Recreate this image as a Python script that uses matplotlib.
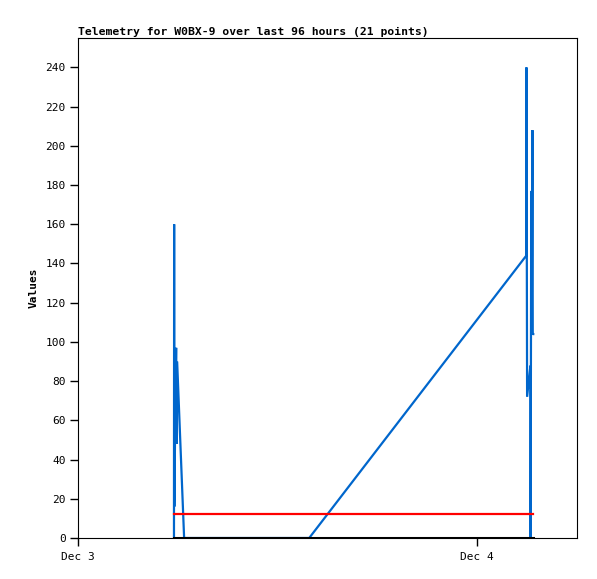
import matplotlib
matplotlib.use("Agg")
import matplotlib.pyplot as plt
from datetime import datetime, timedelta

# hours after Dec 3 00:00
hours = [5.77, 5.78, 5.79, 5.87, 5.90, 5.93, 5.96, 6.10, 6.24, 6.38, 13.90,
         26.95, 26.96, 27.00, 27.20, 27.21, 27.25, 27.28, 27.32, 27.34, 27.37]
blue_vals = [0, 160, 16, 80, 97, 48, 90, 60, 30, 0, 0,
             144, 240, 72, 88, 0, 177, 104, 208, 104, 104]
red_vals = [12] * 21
black_vals = [0] * 21
tick_labels = ["Dec 3", "Dec 4"]
title = "Telemetry for W0BX-9 over last 96 hours (21 points)"

base = datetime(2024, 12, 3)
times = [base + timedelta(hours=h) for h in hours]

fig = plt.figure(figsize=(5.97, 5.79), dpi=100)
ax = fig.add_axes([78/597, 1-538/579, (577-78)/597, (538-38)/579])
ax.plot(times, blue_vals, color="#0066cc", lw=1.6, zorder=2, solid_joinstyle="bevel")
ax.plot(times, red_vals, color="#ff0000", lw=1.6, zorder=3)
ax.plot(times, black_vals, color="#000000", lw=2.2, zorder=4)

ax.set_xlim(base, base + timedelta(hours=30))
ax.set_ylim(0, 255)
ax.set_yticks(range(0, 241, 20))
ax.set_xticks([base, base + timedelta(hours=24)])
ax.set_xticklabels(tick_labels)
ax.tick_params(direction="out", length=6, width=1, labelsize=8, pad=3)
for lab in ax.get_xticklabels() + ax.get_yticklabels():
    lab.set_family("DejaVu Sans Mono")
ax.tick_params(axis="x", pad=4)
for s in ax.spines.values():
    s.set_linewidth(0.8)
ax.set_ylabel("Values", family="DejaVu Sans Mono", fontweight="bold", fontsize=8, labelpad=5)
ax.set_title(title, family="DejaVu Sans Mono", fontweight="bold", fontsize=8.2, loc="left", pad=2)
fig.savefig("out.png", dpi=100)
